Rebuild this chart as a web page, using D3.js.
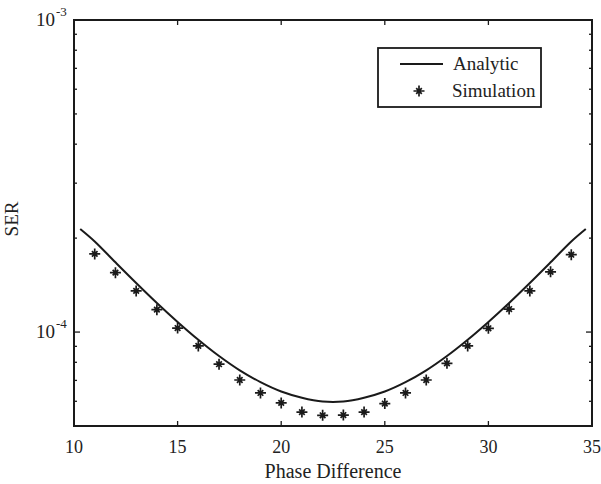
<!DOCTYPE html>
<html>
<head>
<meta charset="utf-8">
<script src="https://cdn.jsdelivr.net/npm/d3@7"></script>
<style>
  body { margin: 0; background: #fff; }
  text { font-family: "Liberation Serif", "Times New Roman", serif; fill: #222; }
</style>
</head>
<body>
<svg id="chart" width="601" height="484"></svg>
<script>
// ---- data ----
const analyticX = [10.3, 11, 12, 13, 14, 15, 16, 17, 18, 19, 20, 21, 22, 23, 24, 25, 26, 27, 28, 29, 30, 31, 32, 33, 34, 34.7];
const analyticSER = [2.14e-4, 1.952e-4, 1.673e-4, 1.437e-4, 1.24e-4, 1.078e-4, 9.45e-5, 8.38e-5, 7.54e-5, 6.91e-5, 6.45e-5, 6.16e-5, 5.99e-5,
                     5.99e-5, 6.16e-5, 6.45e-5, 6.91e-5, 7.54e-5, 8.38e-5, 9.45e-5, 1.078e-4, 1.24e-4, 1.437e-4, 1.673e-4, 1.952e-4, 2.14e-4];
const simX = [11, 12, 13, 14, 15, 16, 17, 18, 19, 20, 21, 22, 23, 24, 25, 26, 27, 28, 29, 30, 31, 32, 33, 34];
const simSER = [1.78e-4, 1.55e-4, 1.355e-4, 1.18e-4, 1.03e-4, 9.03e-5, 7.89e-5, 7.02e-5, 6.38e-5, 5.93e-5, 5.54e-5, 5.41e-5,
                5.42e-5, 5.54e-5, 5.90e-5, 6.38e-5, 7.02e-5, 7.94e-5, 9.03e-5, 1.028e-4, 1.185e-4, 1.355e-4, 1.56e-4, 1.77e-4];
const xTicks = [10, 15, 20, 25, 30, 35];
const yMajorTicks = [1e-4, 1e-3];
const yMajorLabels = ["-4", "-3"];
const yMinorTicks = [6e-5, 7e-5, 8e-5, 9e-5, 2e-4, 3e-4, 4e-4, 5e-4, 6e-4, 7e-4, 8e-4, 9e-4];
const legendLabels = ["Analytic", "Simulation"];
const xLabel = "Phase Difference";
const yLabel = "SER";

// ---- layout ----
const L = 74, R = 592, T = 20, B = 426;
const svg = d3.select("#chart");
const x = d3.scaleLinear().domain([10, 35]).range([L, R]);
const y = d3.scaleLog().domain([5e-5, 1e-3]).range([B, T]);
const ink = "#1a1a1a";

// ticks (inward, all four sides)
const tg = svg.append("g").attr("stroke", ink).attr("stroke-width", 1.3);
xTicks.slice(1, -1).forEach(v => {
  tg.append("line").attr("x1", x(v)).attr("x2", x(v)).attr("y1", B).attr("y2", B - 5);
  tg.append("line").attr("x1", x(v)).attr("x2", x(v)).attr("y1", T).attr("y2", T + 5);
});
yMajorTicks.forEach(v => {
  tg.append("line").attr("x1", L).attr("x2", L + 6).attr("y1", y(v)).attr("y2", y(v));
  tg.append("line").attr("x1", R).attr("x2", R - 6).attr("y1", y(v)).attr("y2", y(v));
});
yMinorTicks.forEach(v => {
  tg.append("line").attr("x1", L).attr("x2", L + 3).attr("y1", y(v)).attr("y2", y(v));
  tg.append("line").attr("x1", R).attr("x2", R - 3).attr("y1", y(v)).attr("y2", y(v));
});

// axes box
svg.append("rect").attr("x", L).attr("y", T).attr("width", R - L).attr("height", B - T)
  .attr("fill", "none").attr("stroke", ink).attr("stroke-width", 2);

// x tick labels
svg.append("g").selectAll("text").data(xTicks).join("text")
  .attr("x", d => x(d)).attr("y", 453).attr("text-anchor", "middle")
  .attr("font-size", 18).text(d => d);

// y tick labels 10^n
yMajorTicks.forEach((v, i) => {
  const yy = y(v);
  svg.append("text").attr("x", 55).attr("y", yy + 6).attr("text-anchor", "end")
    .attr("font-size", 19).text("10");
  svg.append("text").attr("x", 56).attr("y", yy - 4).attr("text-anchor", "start")
    .attr("font-size", 13).text(yMajorLabels[i]);
});

// axis titles
svg.append("text").attr("x", (L + R) / 2).attr("y", 478).attr("text-anchor", "middle")
  .attr("font-size", 20).text(xLabel);
svg.append("text").attr("transform", "translate(18,219) rotate(-90)").attr("text-anchor", "middle")
  .attr("font-size", 19).text(yLabel);

// analytic curve
const line = d3.line().x((d, i) => x(analyticX[i])).y(d => y(d)).curve(d3.curveCatmullRom);
svg.append("path").datum(analyticSER).attr("d", line)
  .attr("fill", "none").attr("stroke", ink).attr("stroke-width", 2);

// star marker
function starPath(cx, cy) {
  const a = 5.5, b = 2.8;
  return `M${cx - a},${cy}L${cx + a},${cy}M${cx},${cy - a}L${cx},${cy + a}` +
         `M${cx - b},${cy - b}L${cx + b},${cy + b}M${cx - b},${cy + b}L${cx + b},${cy - b}`;
}
svg.append("g").selectAll("path").data(simSER).join("path")
  .attr("d", (d, i) => starPath(x(simX[i]), y(d)))
  .attr("stroke", ink).attr("stroke-width", 1.7).attr("fill", "none");

// legend
const lg = svg.append("g");
lg.append("rect").attr("x", 378).attr("y", 48).attr("width", 163).attr("height", 59)
  .attr("fill", "#fff").attr("stroke", ink).attr("stroke-width", 1.8);
lg.append("line").attr("x1", 400).attr("x2", 443).attr("y1", 64).attr("y2", 64)
  .attr("stroke", ink).attr("stroke-width", 2);
lg.append("path").attr("d", starPath(419, 91)).attr("stroke", ink).attr("stroke-width", 1.7);
lg.append("text").attr("x", 453).attr("y", 70).attr("font-size", 19).text(legendLabels[0]);
lg.append("text").attr("x", 452).attr("y", 97).attr("font-size", 19).text(legendLabels[1]);
</script>
</body>
</html>
